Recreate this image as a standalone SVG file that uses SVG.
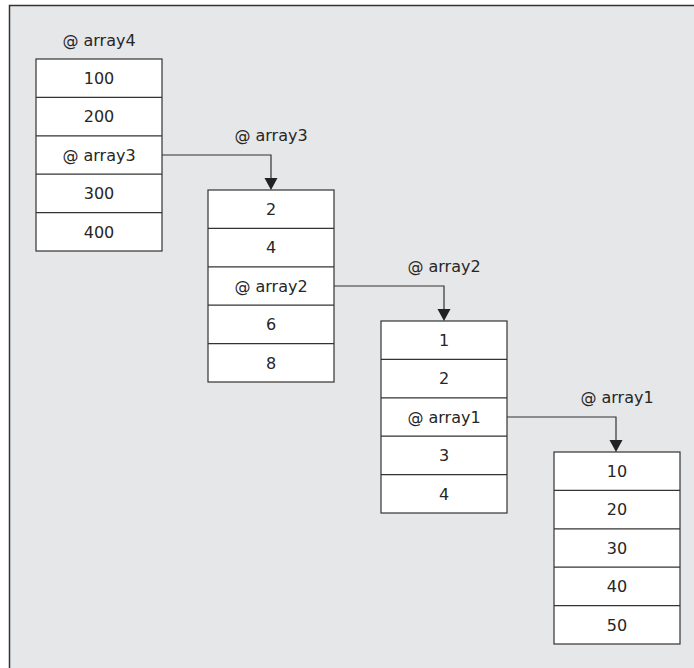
<svg xmlns="http://www.w3.org/2000/svg" width="694" height="668" viewBox="0 0 694 668">
  <style>
    .frame { fill: #e6e7e8; stroke: #333; stroke-width: 1.5; }
    .cell { fill: #ffffff; stroke: #333; stroke-width: 1.2; }
    .sep { stroke: #333; stroke-width: 1.2; }
    text { font-family: "DejaVu Sans", "Liberation Sans", sans-serif; font-size: 16px; fill: #262626; text-anchor: middle; }
    .link { fill: none; stroke: #333; stroke-width: 1.2; }
    .head { fill: #222; }
  </style>

  <rect class="frame" x="9.5" y="5.5" width="700" height="680"/>

  <!-- array4 -->
  <g id="array4">
    <text x="99" y="45.5">@ array4</text>
    <rect class="cell" x="36" y="59" width="126" height="192"/>
    <line class="sep" x1="36" y1="97.4" x2="162" y2="97.4"/>
    <line class="sep" x1="36" y1="135.8" x2="162" y2="135.8"/>
    <line class="sep" x1="36" y1="174.2" x2="162" y2="174.2"/>
    <line class="sep" x1="36" y1="212.6" x2="162" y2="212.6"/>
    <text x="99" y="84">100</text>
    <text x="99" y="122.4">200</text>
    <text x="99" y="160.8">@ array3</text>
    <text x="99" y="199.2">300</text>
    <text x="99" y="237.6">400</text>
  </g>

  <!-- array3 -->
  <g id="array3">
    <text x="271" y="141">@ array3</text>
    <rect class="cell" x="208" y="190" width="126" height="192"/>
    <line class="sep" x1="208" y1="228.4" x2="334" y2="228.4"/>
    <line class="sep" x1="208" y1="266.8" x2="334" y2="266.8"/>
    <line class="sep" x1="208" y1="305.2" x2="334" y2="305.2"/>
    <line class="sep" x1="208" y1="343.6" x2="334" y2="343.6"/>
    <text x="271" y="215">2</text>
    <text x="271" y="253.4">4</text>
    <text x="271" y="291.8">@ array2</text>
    <text x="271" y="330.2">6</text>
    <text x="271" y="368.6">8</text>
  </g>

  <!-- array2 -->
  <g id="array2">
    <text x="444" y="272">@ array2</text>
    <rect class="cell" x="381" y="321" width="126" height="192"/>
    <line class="sep" x1="381" y1="359.4" x2="507" y2="359.4"/>
    <line class="sep" x1="381" y1="397.8" x2="507" y2="397.8"/>
    <line class="sep" x1="381" y1="436.2" x2="507" y2="436.2"/>
    <line class="sep" x1="381" y1="474.6" x2="507" y2="474.6"/>
    <text x="444" y="346">1</text>
    <text x="444" y="384.4">2</text>
    <text x="444" y="422.8">@ array1</text>
    <text x="444" y="461.2">3</text>
    <text x="444" y="499.6">4</text>
  </g>

  <!-- array1 -->
  <g id="array1">
    <text x="617" y="403">@ array1</text>
    <rect class="cell" x="554" y="452" width="126" height="192"/>
    <line class="sep" x1="554" y1="490.4" x2="680" y2="490.4"/>
    <line class="sep" x1="554" y1="528.8" x2="680" y2="528.8"/>
    <line class="sep" x1="554" y1="567.2" x2="680" y2="567.2"/>
    <line class="sep" x1="554" y1="605.6" x2="680" y2="605.6"/>
    <text x="617" y="477">10</text>
    <text x="617" y="515.4">20</text>
    <text x="617" y="553.8">30</text>
    <text x="617" y="592.2">40</text>
    <text x="617" y="630.6">50</text>
  </g>

  <!-- references -->
  <g id="connectors">
    <path class="link" d="M162,155 H271 V178"/>
    <path class="head" d="M264.5,178 L277.5,178 L271,190 Z"/>
    <path class="link" d="M334,286 H444 V309"/>
    <path class="head" d="M437.5,309 L450.5,309 L444,321 Z"/>
    <path class="link" d="M507,417 H616 V440"/>
    <path class="head" d="M609.5,440 L622.5,440 L616,452 Z"/>
  </g>
</svg>
